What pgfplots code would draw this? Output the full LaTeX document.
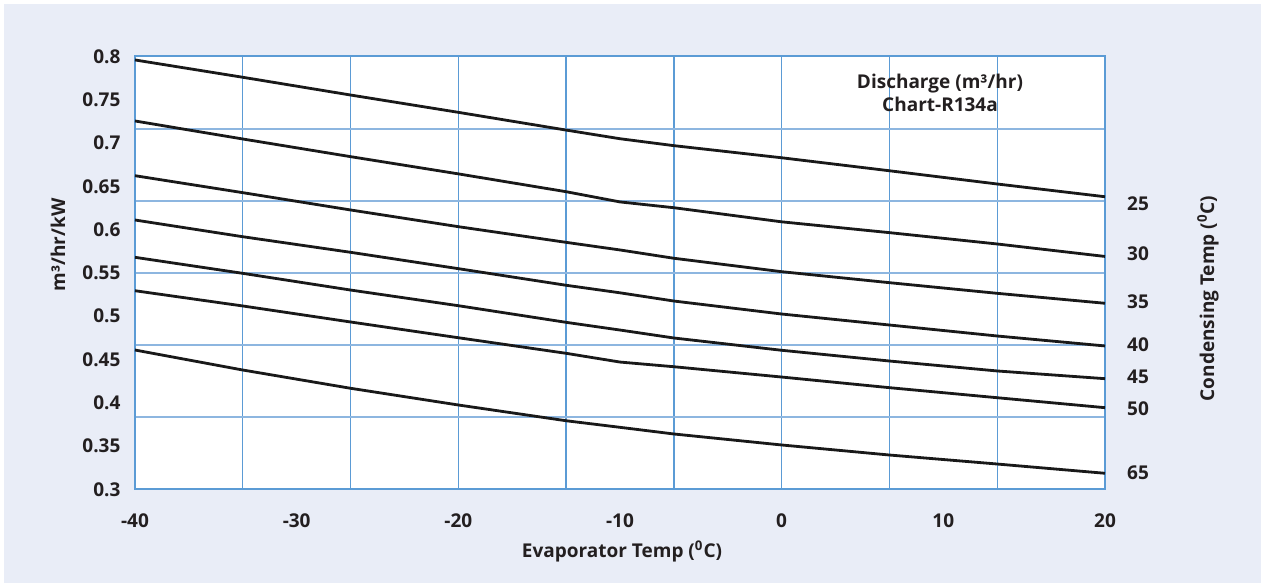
\documentclass[border=0pt]{standalone}
\usepackage{fontspec}
\setmainfont{Open Sans}
\usepackage{pgfplots}
\pgfplotsset{compat=1.18}
\definecolor{bgl}{HTML}{E9EDF7}
\definecolor{axblue}{HTML}{5B9BD5}
\definecolor{gridh}{HTML}{8DB6E0}
\definecolor{txt}{HTML}{231F20}
\begin{document}
\begin{tikzpicture}[curve/.style={color=black!90, line width=1.4bp, mark=none}]
\useasboundingbox (0,0) rectangle (632.5bp,292.5bp);
\fill[white] (0,0) rectangle (632.5bp,292.5bp);
\fill[bgl] (2bp,1bp) rectangle (630.5bp,290.5bp);
\begin{axis}[
  at={(67.5bp,47.85bp)}, anchor=south west,
  scale only axis, width=485bp, height=216.4bp,
  xmin=-40, xmax=20, ymin=0.3, ymax=0.8,
  axis background/.style={fill=white},
  axis line style={axblue, line width=1bp},
  xtick={-40,-30,-20,-10,0,10,20},
  ytick={0.3,0.35,0.4,0.45,0.5,0.55,0.6,0.65,0.7,0.75,0.8},
  yticklabels={0.3,0.35,0.4,0.45,0.5,0.55,0.6,0.65,0.7,0.75,0.8},
  minor xtick={-33.3333,-26.6667,-20,-13.3333,-6.6667,0,6.6667,13.3333},
  minor ytick={0.383333,0.466667,0.55,0.633333,0.716667},
  xminorgrids=true, yminorgrids=true,
  minor grid style={axblue, line width=0.7bp},
  x grid style={axblue, line width=0.7bp},
  y grid style={gridh, line width=0.9bp},
  major tick length=0pt, minor tick length=0pt,
  ticklabel style={font=\fontsize{9.5bp}{11bp}\selectfont\bfseries, text=txt},
  xticklabel style={anchor=center, yshift=-15.8bp},
  yticklabel style={anchor=east, xshift=-3.8bp},
  /pgf/number format/assume math mode=true,
  clip=false,
]
\addplot[curve] coordinates {(-40,0.796) (-33.3333,0.776) (-26.6667,0.7555) (-20,0.7355) (-13.3333,0.715) (-10,0.705) (-6.6667,0.697) (0,0.683) (6.6667,0.668) (13.3333,0.6527) (20,0.638)};
\addplot[curve] coordinates {(-40,0.7255) (-33.3333,0.7047) (-26.6667,0.6843) (-20,0.6644) (-13.3333,0.6438) (-10,0.632) (-6.6667,0.6253) (0,0.609) (6.6667,0.5965) (13.3333,0.5834) (20,0.569)};
\addplot[curve] coordinates {(-40,0.6623) (-33.3333,0.6427) (-26.6667,0.6227) (-20,0.6034) (-13.3333,0.5853) (-10,0.5765) (-6.6667,0.5669) (0,0.5514) (6.6667,0.5387) (13.3333,0.5264) (20,0.5149)};
\addplot[curve] coordinates {(-40,0.6111) (-33.3333,0.5918) (-26.6667,0.5738) (-20,0.5549) (-13.3333,0.5357) (-10,0.527) (-6.6667,0.5175) (0,0.5025) (6.6667,0.4898) (13.3333,0.4771) (20,0.4656)};
\addplot[curve] coordinates {(-40,0.568) (-33.3333,0.5495) (-26.6667,0.5302) (-20,0.5121) (-13.3333,0.4929) (-10,0.484) (-6.6667,0.4748) (0,0.4606) (6.6667,0.4482) (13.3333,0.4367) (20,0.4278)};
\addplot[curve] coordinates {(-40,0.5294) (-33.3333,0.5118) (-26.6667,0.4933) (-20,0.4751) (-13.3333,0.4571) (-10,0.447) (-6.6667,0.4416) (0,0.4297) (6.6667,0.4174) (13.3333,0.4058) (20,0.3943)};
\addplot[curve] coordinates {(-40,0.4609) (-33.3333,0.4378) (-26.6667,0.4167) (-20,0.3974) (-13.3333,0.3792) (-10,0.3716) (-6.6667,0.3639) (0,0.3512) (6.6667,0.3396) (13.3333,0.3292) (20,0.3185)};
\begin{scope}[every node/.style={font=\fontsize{9.5bp}{11bp}\selectfont\bfseries, text=txt, xshift=16.5bp}]
\node at (axis cs:20,0.6304) {25};
\node at (axis cs:20,0.5726) {30};
\node at (axis cs:20,0.5167) {35};
\node at (axis cs:20,0.4667) {40};
\node at (axis cs:20,0.4301) {45};
\node at (axis cs:20,0.3928) {50};
\node at (axis cs:20,0.3192) {65};
\end{scope}
\end{axis}
\begin{scope}[every node/.style={font=\fontsize{9.5bp}{11.5bp}\selectfont\bfseries, text=txt}]
\node[align=center] at (470bp,246.25bp) {Discharge (m³/hr)\\Chart-R134a};
\node at (311bp,16.65bp) {Evaporator Temp (\textsuperscript{0}C)};
\node[rotate=90] at (29bp,170bp) {m³/hr/kW};
\node[rotate=90] at (604bp,143.25bp) {Condensing Temp (\textsuperscript{0}C)};
\end{scope}
\end{tikzpicture}
\end{document}
